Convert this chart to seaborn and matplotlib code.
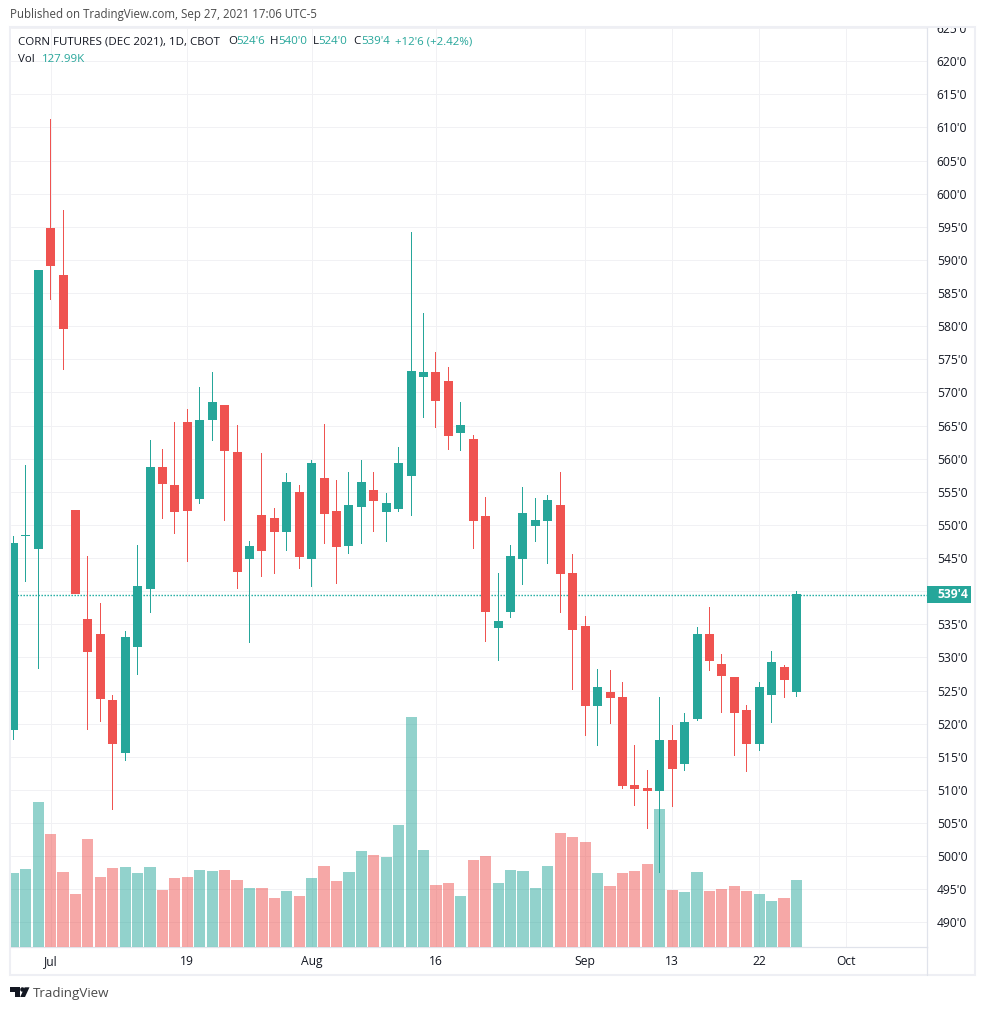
import matplotlib
matplotlib.use("Agg")
import matplotlib.pyplot as plt
from matplotlib.patches import Rectangle, Polygon, Circle
from matplotlib.transforms import Bbox, blended_transform_factory
import seaborn as sns
import pandas as pd

opens = [519, 548.25, 546.4, 594.75, 587.7, 552.25, 535.8, 533.55, 523.6, 515.6, 531.6, 540.3, 558.75, 556, 565.5, 553.9,
         565.8, 568.1, 561, 544.9, 551.5, 551, 548.9, 555, 544.9, 557.1, 552.1, 546.8, 552.7, 555.3, 552, 552.4,
         557.4, 572.3, 573.1, 571.7, 563.9, 563, 551.35, 534.45, 536.9, 544.9, 549.85, 550.6, 553, 542.75, 534.75, 522.7,
         524.8, 524, 510.75, 510.3, 509.85, 517.55, 513.9, 520.7, 533.55, 529, 527, 522.1, 516.95, 524.3, 528.6, 524.75]
closes = [547.25, 548.5, 588.5, 589, 579.6, 539.6, 530.8, 523.7, 517, 533.1, 540.8, 558.75, 556.2, 552, 552.1, 565.8,
          568.55, 561.2, 542.9, 546.8, 546.1, 548.9, 556.5, 545.2, 559.35, 551.65, 546.7, 553, 556.5, 553.6, 553.3, 559.35,
          573.2, 573.1, 568.7, 563.4, 565.1, 550.6, 536.9, 535.5, 545.3, 551.8, 550.75, 553.8, 542.6, 534.15, 522.7, 525.55,
          523.9, 510.6, 510.15, 509.85, 517.55, 513.2, 520.3, 533.55, 529.5, 527.2, 521.6, 516.95, 525.55, 529.3, 526.6, 539.5]
highs = [548.25, 559, 588.5, 611.25, 597.5, 552.25, 545.3, 538.2, 524.3, 534, 547, 562.8, 561.5, 565.5, 567.5, 570.8,
         573.1, 568.1, 565.1, 547.6, 560.9, 552.6, 557.8, 556, 559.8, 565.2, 556.8, 558, 559.8, 558, 554.8, 561.8,
         594.2, 582, 576.1, 573.8, 568.5, 563.6, 554.2, 542.75, 547, 555.7, 554, 554.5, 558, 545.6, 536.3, 528.3,
         528.1, 526.3, 516.8, 513, 524, 519.8, 521.6, 534.6, 537.6, 530.5, 527, 522.8, 526.3, 531, 528.9, 540]
lows = [517.5, 541.4, 528.2, 583.9, 573.4, 539.6, 519, 520.2, 507, 514.3, 527.4, 536.7, 550.9, 548.6, 544.4, 553.2,
        562.7, 550.6, 540.3, 532.2, 542.1, 542.6, 546.1, 543.4, 540.6, 547.1, 541.1, 545.6, 547.1, 548.9, 547.4, 552,
        551.35, 566.1, 564.6, 561.3, 561.2, 546.4, 532.3, 529.5, 536, 540.9, 547.4, 544.1, 536.7, 525.1, 518.15, 516.65,
        520, 510.15, 507.6, 504.1, 497.5, 507.45, 512.9, 520.4, 528, 521.6, 515.1, 512.7, 515.9, 520.1, 523.9, 524]
volumes = [141.4, 149, 276.4, 215.6, 143.3, 101.4, 206.1, 133.8, 150.9, 152.8, 141.4, 152.8, 109, 131.9, 133.8, 147.1,
           145.2, 147.1, 128.1, 112.9, 112.9, 93.8, 107.1, 97.6, 131.9, 154.7, 126.2, 143.3, 183.2, 175.6, 171.8, 232.7,
           438.1, 185.1, 118.6, 122.4, 97.6, 166.1, 173.7, 122.4, 147.1, 145.2, 112.9, 154.7, 217.5, 209.9, 200.3, 141.4,
           116.7, 141.4, 145.2, 158.5, 263.1, 109, 105.2, 143.3, 107.1, 111, 116.7, 107.1, 101.4, 88.1, 93.8, 127.99]

price_ticks = list(range(490, 630, 5))
time_ticks = [3, 14, 24, 34, 46, 53, 60, 67]
time_labels = ["Jul", "19", "Aug", "16", "Sep", "13", "22", "Oct"]
last_price = 539.5

UP = "#26a69a"
DOWN = "#ef5350"
GRID = "#f1f1f4"
AXIS_LINE = "#e0e3eb"
FRAME = "#eeeff4"
INK = "#131722"
GREY = "#4a4a4a"

sns.set_style("white")
plt.rcParams["font.family"] = ["Open Sans", "DejaVu Sans"]

df = pd.DataFrame({"bar": range(len(opens)), "open": opens, "high": highs, "low": lows, "close": closes, "volume": volumes})
df["direction"] = ["up" if c >= o else "down" for o, c in zip(df["open"], df["close"])]
palette = {"up": UP, "down": DOWN}

W, H = 985, 1010
fig = plt.figure(figsize=(W / 100, H / 100), dpi=100, facecolor="white")


def fx(x):
    return x / W


def fy(y):
    return 1 - y / H


# pane runs from 10.5 to 927 px, 28 to 947 px
pos = [fx(10.5), fy(947), fx(927) - fx(10.5), fy(28) - fy(947)]
xlim = (-0.225, 73.5)
ylim = (486.3, 624.98)

ax = fig.add_axes(pos, zorder=1)
ax_vol = fig.add_axes(pos, zorder=2)
ax_top = fig.add_axes(pos, zorder=3)

# grid, axis labels and last price line sit at the bottom
ax.set_xlim(xlim)
ax.set_ylim(ylim)
ax.yaxis.tick_right()
ax.set_yticks(price_ticks)
# the price tag covers the 540 label
ax.set_yticklabels(["" if p == 540 else f"{p}'0" for p in price_ticks], fontsize=8.7, color=INK)
ax.set_xticks(time_ticks)
ax.set_xticklabels(time_labels, fontsize=8.7, color=INK)
ax.tick_params(axis="both", length=0)
ax.tick_params(axis="y", pad=7)
ax.tick_params(axis="x", pad=6)
ax.grid(True, color=GRID, linewidth=0.72)
ax.set_axisbelow(True)
for side in ["top", "left"]:
    ax.spines[side].set_visible(False)
for side in ["right", "bottom"]:
    ax.spines[side].set_color(AXIS_LINE)
    ax.spines[side].set_linewidth(0.9)
ax.axhline(last_price, color="#12a89c", linewidth=1.0, linestyle=(0, (1, 1.16)))

# 625'0 is cut by the top of the frame
clip = Bbox.from_extents(fx(927) * W, fy(975) * H, fx(975) * W, fy(28) * H)
for lab in ax.get_yticklabels():
    lab.set_clip_box(clip)
    lab.set_clip_on(True)

# volume
sns.barplot(data=df, x="bar", y="volume", hue="direction", palette=palette, native_scale=True, dodge=False,
            width=0.9, alpha=0.5, saturation=1, errorbar=None, legend=False, linewidth=0, ax=ax_vol)
ax_vol.set_xlim(xlim)
ax_vol.set_ylim(0, 1748)
ax_vol.axis("off")

# candles, wicks are 1 px wide bars so they snap to the pixel grid
ax_top.set_xlim(xlim)
ax_top.set_ylim(ylim)
ax_top.axis("off")
for direction, group in df.groupby("direction"):
    ax_top.bar(group["bar"], group["high"] - group["low"], bottom=group["low"], width=0.0805,
               color=palette[direction], linewidth=0)
    ax_top.bar(group["bar"], (group["close"] - group["open"]).abs(), bottom=group[["open", "close"]].min(axis=1),
               width=0.724, color=palette[direction], linewidth=0)

# last price tag
tag = blended_transform_factory(ax_top.transAxes, ax_top.transData)
ax_top.add_patch(Rectangle((1, last_price - 1.28), 44 / 916.5, 2.56, transform=tag, color=UP, clip_on=False, linewidth=0))
ax_top.text(1 + 10 / 916.5, last_price - 0.05, "539'4", transform=tag, color="white", fontsize=8.7, fontweight="bold",
            va="center", ha="left", clip_on=False)

# outer frame
fig.add_artist(Rectangle((fx(10), fy(975)), fx(975) - fx(10), fy(27) - fy(975), transform=fig.transFigure,
                         fill=False, edgecolor=FRAME, linewidth=1.5))
fig.add_artist(plt.Line2D([fx(927), fx(927)], [fy(975), fy(947)], color=AXIS_LINE, linewidth=0.9))

# header
fig.text(fx(10), fy(14.7), "Published on TradingView.com, Sep 27, 2021 17:06 UTC-5", fontsize=8.3, color=GREY, va="center")
legend_row = [(18, "CORN FUTURES (DEC 2021), 1D, CBOT", INK), (228, "O", INK), (236, "524'6", UP), (270, "H", INK),
              (278, "540'0", UP), (313, "L", INK), (318, "524'0", UP), (353, "C", INK), (361, "539'4", UP),
              (395, "+12'6 (+2.42%)", UP)]
for x, label, colour in legend_row:
    fig.text(fx(x), fy(42), label, fontsize=8.25, color=colour, va="center")
fig.text(fx(18), fy(59), "Vol", fontsize=8.25, color=INK, va="center")
fig.text(fx(42), fy(59), "127.99K", fontsize=8.25, color=UP, va="center")

# logo
logo_t = [(10, 987.3), (19.6, 987.3), (19.6, 997), (14.6, 997), (14.6, 991.6), (10, 991.6)]
logo_v = [(24.6, 987.3), (29.5, 987.3), (25, 997), (20.2, 997)]
for shape in [logo_t, logo_v]:
    fig.add_artist(Polygon([(fx(x), fy(y)) for x, y in shape], transform=fig.transFigure, color=INK, linewidth=0))
fig.add_artist(Circle((fx(22.4), fy(989.5)), 2.2 / W, transform=fig.transFigure, color=INK, linewidth=0))
fig.text(fx(33), fy(993), "TradingView", fontsize=9.6, color=GREY, va="center")

fig.savefig("out.png", dpi=100)
